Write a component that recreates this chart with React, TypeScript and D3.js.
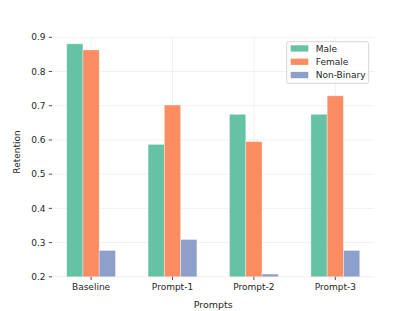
import React from "react";
import * as d3 from "d3";

const prompts = ["Baseline", "Prompt-1", "Prompt-2", "Prompt-3"];
const groups = ["Male", "Female", "Non-Binary"];
const male = [0.881, 0.587, 0.675, 0.675];
const female = [0.863, 0.702, 0.595, 0.729];
const nonBinary = [0.277, 0.309, 0.208, 0.277];
const yTicks = [0.2, 0.3, 0.4, 0.5, 0.6, 0.7, 0.8, 0.9];
const colors = ["#66c2a5", "#fc8d62", "#8da0cb"];

const W = 415;
const H = 311;
const font = "DejaVu Sans, sans-serif";
const ink = "#262626";

export default function App() {
  const left = 52, right = 374.4, top = 37.3, bottom = 276.8;
  const series = [male, female, nonBinary];

  // bars at i-0.2, i, i+0.2 with width 0.2, 5% margins like matplotlib
  const x = d3.scaleLinear().domain([-0.48, 3.48]).range([left, right]);
  const y = d3.scaleLinear().domain([0.2, 0.9]).range([bottom, top]);
  const bw = x(0.2) - x(0);

  return (
    <svg
      width={W}
      height={H}
      style={{ position: "absolute", left: 0, top: 0, background: "#fff" }}
      fontFamily={font}
    >
      {/* grid */}
      <g stroke="#ebebeb" strokeWidth={0.7}>
        {yTicks.map((t) => (
          <line key={t} x1={left} x2={right} y1={y(t)} y2={y(t)} />
        ))}
        {prompts.map((p, i) => (
          <line key={p} x1={x(i)} x2={x(i)} y1={top} y2={bottom} />
        ))}
      </g>

      {/* bars */}
      {series.map((vals, s) =>
        vals.map((v, i) => (
          <rect
            key={s + "-" + i}
            x={x(i + (s - 1) * 0.2 - 0.1)}
            y={y(v)}
            width={bw}
            height={y(0.2) - y(v)}
            fill={colors[s]}
            stroke="#ffffff"
            strokeOpacity={0.45}
            strokeWidth={0.8}
          />
        ))
      )}

      {/* y axis */}
      <g fill={ink} fontSize={9}>
        {yTicks.map((t) => (
          <g key={t}>
            <line x1={left - 3.2} x2={left} y1={y(t)} y2={y(t)} stroke={ink} strokeWidth={0.8} />
            <text x={left - 6.4} y={y(t)} dy="0.35em" textAnchor="end">
              {d3.format(".1f")(t)}
            </text>
          </g>
        ))}
      </g>

      {/* x axis */}
      <g fill={ink} fontSize={9}>
        {prompts.map((p, i) => (
          <g key={p}>
            <line x1={x(i)} x2={x(i)} y1={bottom} y2={bottom + 3.2} stroke={ink} strokeWidth={0.8} />
            <text x={x(i)} y={bottom + 6.4} dy="0.75em" textAnchor="middle">
              {p}
            </text>
          </g>
        ))}
      </g>

      <text x={(left + right) / 2} y={307.5} textAnchor="middle" fontSize={9.5} fill={ink}>
        Prompts
      </text>
      <text
        transform={`translate(${20},${152}) rotate(-90)`}
        textAnchor="middle"
        fontSize={9}
        fill={ink}
      >
        Retention
      </text>

      {/* legend */}
      <g>
        <rect x={286.7} y={41.7} width={82} height={41.6} rx={2} fill="#fff" fillOpacity={0.8} stroke="#cccccc" strokeWidth={0.8} />
        {groups.map((g, k) => (
          <g key={g} transform={`translate(290.7,${48.5 + k * 13.3})`}>
            <rect x={0} y={-3.2} width={17.6} height={6.3} fill={colors[k]} />
            <text x={25} y={0} dy="0.35em" fontSize={9} fill={ink}>
              {g}
            </text>
          </g>
        ))}
      </g>
    </svg>
  );
}
